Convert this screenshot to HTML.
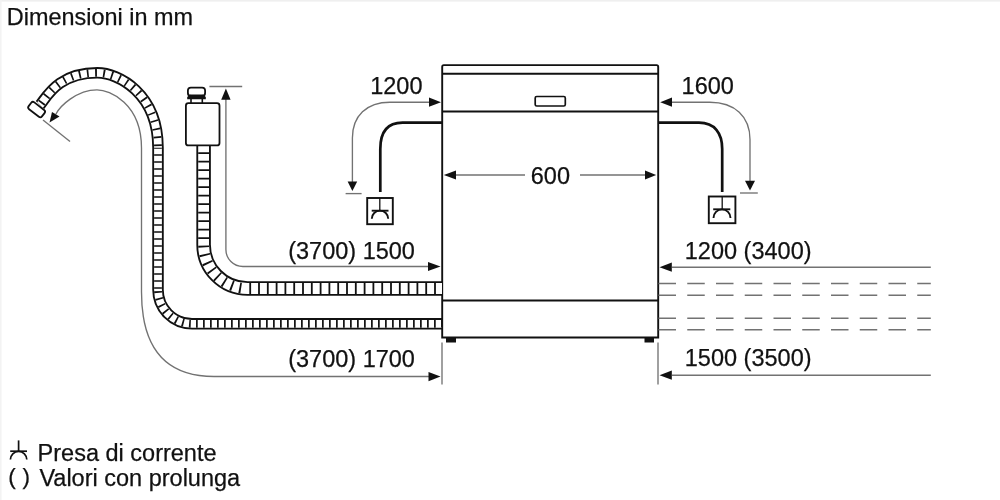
<!DOCTYPE html>
<html><head><meta charset="utf-8"><style>
html,body{margin:0;padding:0;background:#fff;width:1000px;height:500px;overflow:hidden}
svg{display:block}
text{font-family:"Liberation Sans",sans-serif;fill:#111;stroke:#111;stroke-width:0.25}
.t{opacity:0.999;will-change:transform}
</style></head><body>
<svg width="1000" height="500" viewBox="0 0 1000 500">
<rect x="0" y="0" width="1000" height="500" fill="#fff"/>
<rect x="0" y="0" width="1000" height="1.6" fill="#efefef"/>
<rect x="0" y="0" width="1.6" height="500" fill="#f3f3f3"/>

<!-- ===== texts ===== -->
<g font-size="23.5" class="t">
<text x="6.8" y="25" font-size="23.2" textLength="186.2" lengthAdjust="spacingAndGlyphs">Dimensioni in mm</text>
<text x="370.2" y="94">1200</text>
<text x="681.6" y="93.6">1600</text>
<text x="530.8" y="183.5">600</text>
<text x="288.2" y="259.4">(3700) 1500</text>
<text x="288.2" y="367">(3700) 1700</text>
<text x="684.8" y="259">1200 (3400)</text>
<text x="684.8" y="366.4">1500 (3500)</text>
<text x="37.6" y="460.5">Presa di corrente</text>
<text x="8.3" y="483.8" font-size="22.5">(</text>
<text x="22.6" y="483.8" font-size="22.5">)</text>
<text x="39.4" y="486.3">Valori con prolunga</text>
</g>

<!-- ===== dishwasher ===== -->
<g fill="none" stroke="#111" stroke-width="1.9">
<path d="M442.2,337.5 L442.2,66.7 Q442.2,65.1 443.8,65.1 L656.6,65.1 Q658.2,65.1 658.2,66.7 L658.2,337.5 Z"/>
<line x1="442.2" y1="73.8" x2="658.2" y2="73.8"/>
<line x1="442.2" y1="111.5" x2="658.2" y2="111.5"/>
<line x1="442.2" y1="300.5" x2="658.2" y2="300.5"/>
<rect x="535.2" y="96.5" width="30.1" height="9.5" rx="1.5" stroke-width="1.7"/>
</g>
<rect x="446" y="338" width="10" height="4.5" fill="#111"/>
<rect x="644.5" y="338" width="9.5" height="4.5" fill="#111"/>

<!-- ===== hoses ===== -->
<g fill="none" stroke-linejoin="round">
  <!-- drain hose -->
  <path id="h1" d="M40,105 C46.1,98.4 56.9,72.8 97.3,72.8 C118.2,72.8 158,93.2 158,147.8 L158,289.6 A34,34 0 0 0 192,323.8 L442,323.8" stroke="#111" stroke-width="11.5"/>
  <path d="M40,105 C46.1,98.4 56.9,72.8 97.3,72.8 C118.2,72.8 158,93.2 158,147.8 L158,289.6 A34,34 0 0 0 192,323.8 L442,323.8" stroke="#fff" stroke-width="7.8"/>
  <path d="M40,105 C46.1,98.4 56.9,72.8 97.3,72.8 C118.2,72.8 158,93.2 158,147.8" stroke="#111" stroke-width="7.8" stroke-dasharray="1.7 6.4" stroke-dashoffset="-2.2"/>
  <path d="M158,147.8 L158,289.6" stroke="#111" stroke-width="7.8" stroke-dasharray="1.7 5.3" stroke-dashoffset="-6.35"/>
  <path d="M158,289.6 A34,34 0 0 0 192,323.8 L442,323.8" stroke="#111" stroke-width="7.8" stroke-dasharray="1.7 5.3" stroke-dashoffset="-1.55"/>
  <!-- inlet hose -->
  <path d="M203.6,145 L203.6,244 A44,44 0 0 0 247.6,288.5 L442,288.5" stroke="#111" stroke-width="14.5"/>
  <path d="M203.6,145 L203.6,244 A44,44 0 0 0 247.6,288.5 L442,288.5" stroke="#fff" stroke-width="10.8"/>
  <path d="M203.6,145 L203.6,244 A44,44 0 0 0 247.6,288.5" stroke="#111" stroke-width="10.8" stroke-dasharray="1.8 6.7" stroke-dashoffset="1.3"/>
  <path d="M247.6,288.5 L442,288.5" stroke="#111" stroke-width="10.8" stroke-dasharray="1.8 7" stroke-dashoffset="-1.7"/>
</g>
<!-- drain fitting -->
<g transform="translate(36.6,109.6) rotate(37.7)">
<rect x="-8.4" y="-4.3" width="16.8" height="8.6" rx="2.2" fill="#fff" stroke="#111" stroke-width="1.8"/>
</g>
<!-- inlet fitting -->
<g fill="#fff" stroke="#111" stroke-width="1.8">
<line x1="191" y1="98" x2="191" y2="104" stroke-width="1.6"/>
<line x1="202.3" y1="98" x2="202.3" y2="104" stroke-width="1.6"/>
<rect x="185.9" y="103.2" width="33.6" height="42.2" rx="2.5"/>
<rect x="187.9" y="87.6" width="17.2" height="8.4" rx="3"/>
<polygon points="190,94.6 203.2,94.6 205.8,97 205.8,99.2 187.2,99.2 187.2,97" fill="#111" stroke="none"/>
</g>

<!-- ===== power cables ===== -->
<g fill="none" stroke="#111" stroke-width="2.7">
<path d="M442,122.7 L402.5,122.7 C387,122.7 380.3,133 380.3,149 L380.3,192"/>
<path d="M658,122.7 L699,122.7 C714.5,122.7 722.2,133 722.2,149 L722.2,192"/>
</g>
<!-- sockets -->
<g fill="none" stroke="#111">
<rect x="367.2" y="198" width="25.6" height="26.2" stroke-width="1.9"/>
<line x1="379.8" y1="198" x2="379.8" y2="210.7" stroke-width="1.3"/>
<line x1="371.7" y1="210.7" x2="388.5" y2="210.7" stroke-width="1.9"/>
<path d="M371.8,218.8 A8.2,8.2 0 0 1 388.2,218.8" stroke-width="1.9"/>
<rect x="708.8" y="196.5" width="26.6" height="26.7" stroke-width="1.9"/>
<line x1="722.2" y1="196.5" x2="722.2" y2="209.3" stroke-width="1.3"/>
<line x1="713.2" y1="209.3" x2="730.3" y2="209.3" stroke-width="1.9"/>
<path d="M713.5,217.9 A8.5,8.5 0 0 1 730.5,217.9" stroke-width="1.9"/>
<!-- legend socket -->
<line x1="18.6" y1="440.4" x2="18.6" y2="451.2" stroke-width="1.7"/>
<line x1="10.2" y1="451.2" x2="27" y2="451.2" stroke-width="1.7"/>
<path d="M10.4,459.6 A8.2,8.2 0 0 1 26.8,459.6" stroke-width="1.7"/>
</g>

<!-- ===== gray dimension lines ===== -->
<g fill="none" stroke="#727272" stroke-width="1.35">
  <!-- 1200 left -->
  <path d="M429,102.2 L390,102.2 C366.7,102.2 352.4,115.8 352.4,138.0 L352.4,182"/>
  <line x1="345.6" y1="193.6" x2="361.6" y2="193.6"/>
  <!-- 1600 right -->
  <path d="M672,102.2 L709.8,102.2 C734.7,102.2 750.0,116.4 750.0,139.5 L750,181"/>
  <line x1="740" y1="193" x2="757.8" y2="193"/>
  <!-- 600 -->
  <line x1="455" y1="175" x2="525" y2="175"/>
  <line x1="580" y1="175" x2="645" y2="175"/>
  <!-- inlet -->
  <line x1="209.4" y1="86.5" x2="242.2" y2="86.5"/>
  <path d="M225.9,99 L225.9,249.5 A17,17 0 0 0 242.9,266.5 L429,266.5"/>
  <!-- drain -->
  <path d="M55.85,114.3 C59.56,106.45 76.55,89.8 97,89.8 C109.8,89.8 141.5,103.3 141.5,148 L141.5,292 C141.5,345 163,376.5 214,376.5 L429,376.5"/>
  <line x1="43" y1="120" x2="70" y2="141.5"/>
  <!-- extension lines bottom -->
  <line x1="442" y1="342.5" x2="442" y2="384.5"/>
  <line x1="658" y1="342.5" x2="658" y2="384.5"/>
  <!-- right long -->
  <line x1="672" y1="267.2" x2="930.8" y2="267.2"/>
  <line x1="672" y1="375.2" x2="930.8" y2="375.2"/>
  <!-- dashed -->
  <g stroke-dasharray="17.5 11.25">
    <line x1="658.5" y1="283.5" x2="930.8" y2="283.5"/>
    <line x1="658.5" y1="295.2" x2="930.8" y2="295.2"/>
    <line x1="658.5" y1="318.2" x2="930.8" y2="318.2"/>
    <line x1="658.5" y1="329.7" x2="930.8" y2="329.7"/>
  </g>
</g>

<!-- ===== arrowheads ===== -->
<g fill="#111">
  <polygon points="441,102.2 429,97.6 429,106.8"/>
  <polygon points="660.2,102.2 672,97.6 672,106.8"/>
  <polygon points="443.8,175 456,170.4 456,179.6"/>
  <polygon points="656.2,175 645,170.5 645,179.5"/>
  <polygon points="352.4,191 347.6,181.6 357.2,181.6"/>
  <polygon points="750,190.4 745,180.8 755,180.8"/>
  <polygon points="225.9,88.6 221.2,99.8 230.6,99.8"/>
  <polygon points="440.5,266.5 428,261.9 428,271.1"/>
  <polygon points="440.5,376.6 428.5,372 428.5,381.2"/>
  <polygon points="659.5,267.2 671.8,262.6 671.8,271.8"/>
  <polygon points="659.5,375.2 671.8,370.6 671.8,379.8"/>
  <polygon points="49.5,122.5 52,112 59.5,116.5"/>
</g>
</svg>
</body></html>
